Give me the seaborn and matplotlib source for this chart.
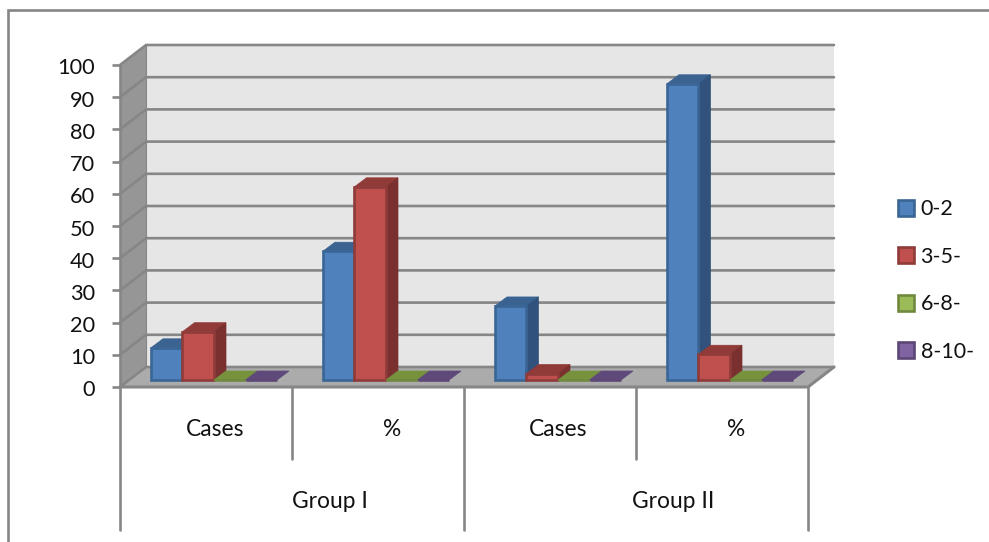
import matplotlib
matplotlib.use("Agg")
import matplotlib.pyplot as plt
from matplotlib.lines import Line2D
from matplotlib.patches import Polygon, Rectangle
from matplotlib.transforms import ScaledTranslation
import pandas as pd
import seaborn as sns

# Chart data
groups = ["Group I", "Group II"]
measures = ["Cases", "%", "Cases", "%"]
age_bands = ["0-2", "3-5-", "6-8-", "8-10-"]
band_0_2 = [10, 40, 23, 92]
band_3_5 = [15, 60, 2, 8]
band_6_8 = [0, 0, 0, 0]
band_8_10 = [0, 0, 0, 0]
y_ticks = list(range(0, 101, 10))

# Colours per series: face, outline, top facet, side facet
FACES = ["#4F81BD", "#C0504D", "#9BBB59", "#8064A2"]
EDGES = ["#3A6595", "#8E3B39", "#71893F", "#5C4776"]
TOPS = ["#3A6391", "#913B39", "#76923C", "#5F497A"]
SIDES = ["#30527C", "#7A302E", "#66802F", "#503D6A"]
LINE = "#868686"

W, H = 989, 542
sns.set_theme(style="white", rc={"font.family": ["Lato", "DejaVu Sans"]})
plt.rcParams["font.family"] = ["Lato", "DejaVu Sans"]
TEXT = "#111111"

fig = plt.figure(figsize=(W / 100, H / 100), dpi=100, facecolor="white")


def axes_px(left, top, right, bottom):
    return fig.add_axes([left / W, 1 - bottom / H, (right - left) / W, (bottom - top) / H])


# Chart border: only the top and left edges fall inside the canvas
fig.add_artist(Line2D([8 / W, 8 / W, 1], [0, 1 - 9.5 / H, 1 - 9.5 / H], transform=fig.transFigure,
                      color=LINE, linewidth=1.9, solid_joinstyle="miter"))

# Frame axes: front plane of the 3-D box, holding walls, floor, ticks and category dividers
frame = axes_px(120, 65, 808, 387)
frame.set_xlim(0, 4)
frame.set_ylim(0, 100)
frame.patch.set_visible(False)
PX_X = 4 / 688
PX_Y = 100 / 322
dx, dy = 26 * PX_X, 20 * PX_Y

frame.add_patch(Polygon([(dx, dy), (4 + dx, dy), (4 + dx, 100 + dy), (dx, 100 + dy)],
                        closed=True, facecolor="#E6E6E6", edgecolor="none", clip_on=False, zorder=1))
frame.add_patch(Polygon([(0, 0), (dx, dy), (dx, 100 + dy), (0, 100)],
                        closed=True, facecolor="#969696", edgecolor="none", clip_on=False, zorder=1))
frame.add_patch(Polygon([(0, 0), (4, 0), (4 + dx, dy), (dx, dy)],
                        closed=True, facecolor="#ABABAB", edgecolor="none", clip_on=False, zorder=1))
for v in y_ticks:
    frame.plot([0, dx, 4 + dx], [v, v + dy, v + dy], color=LINE, lw=1.9, clip_on=False,
               solid_joinstyle="miter", zorder=2)
frame.plot([0, 0], [0, 100], color=LINE, lw=1.9, clip_on=False, zorder=2)
frame.plot([dx, dx], [dy, 100 + dy], color=LINE, lw=0.8, clip_on=False, zorder=2)
frame.plot([0, 4, 4 + dx], [0, 0, dy], color=LINE, lw=2.2, clip_on=False, zorder=2)

for side in frame.spines.values():
    side.set_visible(False)
frame.set_yticks(y_ticks)
frame.set_yticklabels([str(v) for v in y_ticks], fontsize=15.7, color=TEXT)
frame.tick_params(axis="y", length=6, width=1.9, color=LINE, pad=17, left=True)
nudge = ScaledTranslation(7 / 100, -1.5 / 100, fig.dpi_scale_trans)
for label in frame.get_yticklabels():
    label.set_transform(label.get_transform() + nudge)
frame.set_xticks([])

# Two-level category axis below the floor
for x, drop in [(0, 143), (1, 72), (2, 143), (3, 72), (4, 143)]:
    frame.plot([x, x], [0, -drop * PX_Y], color=LINE, lw=1.9, clip_on=False, zorder=2)
for x, label in zip([0.552, 1.581, 2.547, 3.58], measures):
    frame.text(x, -43 * PX_Y, label, ha="center", va="center", fontsize=16.4, color=TEXT)
for x, label in zip([1.221, 3.215], groups):
    frame.text(x, -114.5 * PX_Y, label, ha="center", va="center", fontsize=16.4, color=TEXT)

# Bar axes: the plane holding the front faces of the columns
ax = axes_px(128, 58, 816, 380)
ax.patch.set_visible(False)
ax.set_zorder(frame.get_zorder() + 1)
slots = [f"{i}" for i in range(len(measures))]
table = pd.DataFrame({
    "slot": slots * 4,
    "value": band_0_2 + band_3_5 + band_6_8 + band_8_10,
    "band": [b for b in age_bands for _ in slots],
})
sns.barplot(data=table, x="slot", y="value", hue="band", hue_order=age_bands, palette=FACES,
            order=slots, width=0.733, gap=0, saturation=1, errorbar=None, legend=False, ax=ax)
ax.set_xlim(-0.5, 3.5)
ax.set_ylim(0, 100)
ax.axis("off")

# Depth facets of every column, derived from the bars' own geometry
ddx, ddy = 12 * PX_X, 9 * PX_Y
for s, container in enumerate(ax.containers):
    for c, bar in enumerate(container):
        x0, w, h = bar.get_x(), bar.get_width(), bar.get_height()
        x1 = x0 + w
        base = 10 * c + s * 2
        bar.set(edgecolor=EDGES[s], linewidth=1.9, zorder=3 + base + 1, clip_on=False)
        ax.add_patch(Polygon([(x0, h), (x1, h), (x1 + ddx, h + ddy), (x0 + ddx, h + ddy)], closed=True,
                             facecolor=TOPS[s], edgecolor=TOPS[s], lw=0.5, clip_on=False, zorder=3 + base))
        if h > 0:
            ax.add_patch(Polygon([(x1, 0), (x1 + ddx, ddy), (x1 + ddx, h + ddy), (x1, h)], closed=True,
                                 facecolor=SIDES[s], edgecolor=SIDES[s], lw=0.5, clip_on=False, zorder=3 + base))

# Legend on the right
handles = [Rectangle((0, 0), 1, 1, facecolor=f, edgecolor=e, linewidth=1.9) for f, e in zip(FACES, EDGES)]
fig.legend(handles, age_bands, loc="center left", bbox_to_anchor=(898 / W, 1 - 280.5 / H), frameon=False,
           fontsize=15.5, labelcolor=TEXT, handlelength=0.75, handleheight=0.75, handletextpad=0.3,
           labelspacing=1.27, borderpad=0, borderaxespad=0)

fig.savefig("out.png", dpi=100)
